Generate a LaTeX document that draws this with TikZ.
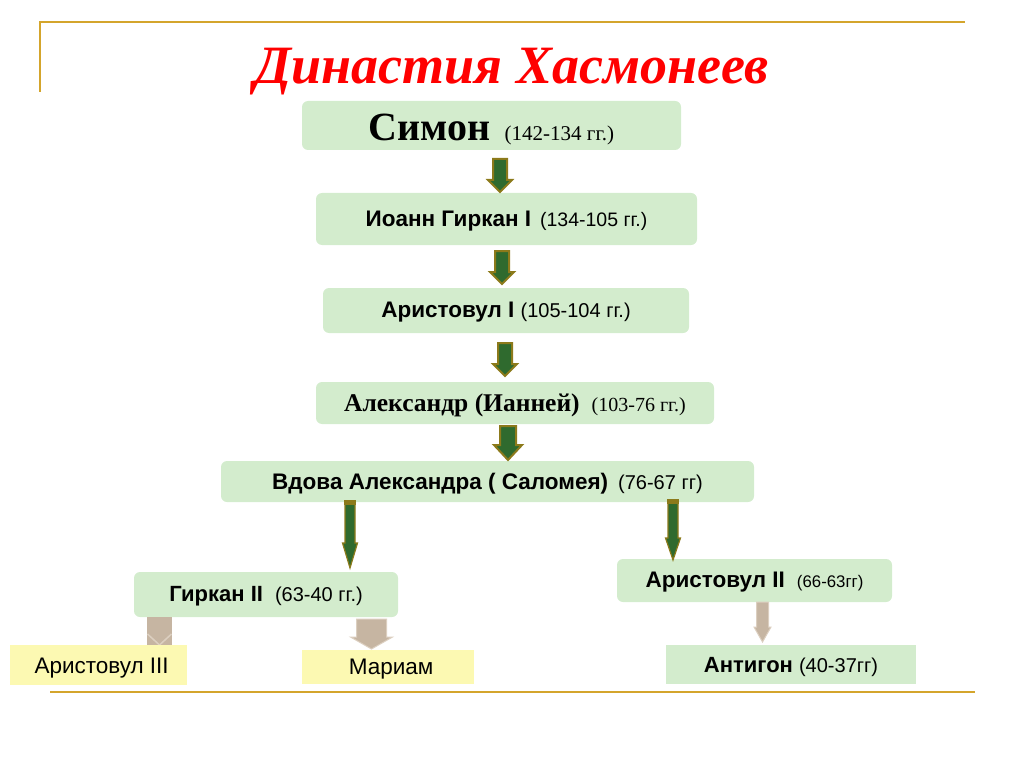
\documentclass[tikz,border=0pt]{standalone}
\usepackage{fontspec}
\setmainfont{Liberation Serif}
\newfontfamily\sansf{Liberation Sans}
\usetikzlibrary{calc}
\definecolor{gold}{HTML}{D4A52C}
\definecolor{boxgreen}{HTML}{D3ECCD}
\definecolor{boxyellow}{HTML}{FCF9B2}
\definecolor{arrgreen}{HTML}{2F6A2E}
\definecolor{arrolive}{HTML}{8C7A1B}
\definecolor{arrtan}{HTML}{C6B5A2}
\definecolor{arrtanedge}{HTML}{DCCFC0}
\definecolor{titlered}{HTML}{FF0000}
\newcommand\fs[1]{\fontsize{#1}{#1}\selectfont}
\newcommand\lowr[2]{\raisebox{-#1}[\height][\depth]{#2}}
\newcommand\blockarrow[6]{%
  \path let \p1=(#2), \p2=(#3) in [#1]
    (\x1-#4,\y1) -- (\x1+#4,\y1) -- (\x1+#4,\y2+#6) -- (\x1+#5,\y2+#6) --
    (\x1,\y2) -- (\x1-#5,\y2+#6) -- (\x1-#4,\y2+#6) -- cycle;}
\tikzset{
  gbox/.style={fill=boxgreen, rounded corners=6pt, inner sep=0pt},
  sbox/.style={fill=boxgreen, inner sep=0pt},
  ybox/.style={fill=boxyellow, inner sep=0pt},
  garr/.style={fill=arrgreen, draw=arrolive, line width=2pt, line join=miter},
  tarr/.style={fill=arrtan, draw=arrtanedge, line width=1pt},
  rule/.style={draw=gold, line width=2pt},
}
\begin{document}
\begin{tikzpicture}[x=1pt,y=-1pt]
\useasboundingbox (0,0) rectangle (1024,767);
% frame lines
\coordinate (tl) at (40,22);
\coordinate (tr) at (965,22);
\coordinate (lb) at (40,92);
\coordinate (bl) at (50,692);
\coordinate (br) at (975,692);
\draw[rule] (lb) -- (tl) -- (tr);
\draw[rule] (bl) -- (br);
% title
\node[anchor=base, text=titlered, inner sep=0pt] (title) at (512,84)
  {\fs{54}\bfseries\itshape Династия Хасмонеев};
% boxes
\node[gbox, minimum width=379, minimum height=49] (simon) at (491.5,125.5)
  {\lowr{4pt}{\fs{40}\bfseries Симон\hspace{14pt}\fs{21}\mdseries (142-134 гг.)}};
\node[gbox, minimum width=381, minimum height=52] (ioann) at (506.5,219)
  {\lowr{2pt}{\sansf\fs{22.5}\bfseries Иоанн Гиркан I\hspace{9pt}\fs{19.5}\mdseries (134-105 гг.)}};
\node[gbox, minimum width=366, minimum height=45] (arist1) at (506,310.5)
  {\lowr{2pt}{\sansf\fs{22.5}\bfseries Аристовул I \fs{20}\mdseries (105-104 гг.)}};
\node[gbox, minimum width=398, minimum height=42] (alex) at (515,403)
  {\lowr{2pt}{\fs{25.5}\bfseries Александр (Ианней)\hspace{12pt}\fs{20}\mdseries (103-76 гг.)}};
\node[gbox, minimum width=533, minimum height=41] (vdova) at (487.5,481.5)
  {\lowr{2pt}{\sansf\fs{22.5}\bfseries Вдова Александра ( Саломея)\hspace{10pt}\fs{20}\mdseries (76-67 гг)}};
\node[gbox, minimum width=264, minimum height=45] (girkan2) at (266,594.5)
  {\lowr{2pt}{\sansf\fs{22}\bfseries Гиркан II\hspace{12pt}\fs{20}\mdseries (63-40 гг.)}};
\node[gbox, minimum width=275, minimum height=43] (arist2) at (754.5,580.5)
  {\lowr{2pt}{\sansf\fs{22.5}\bfseries Аристовул II\hspace{12pt}\fs{16.8}\mdseries (66-63гг)}};
% tan arrows (drawn before lower boxes)
\coordinate (t1s) at (159.5,617);
\coordinate (t1e) at (159.5,646);
\coordinate (t2s) at (371.5,619);
\coordinate (t2e) at (371.5,649);
\coordinate (t3s) at (762.5,602);
\coordinate (t3e) at (762.5,642);
\fill[arrtan] ($(t1s)+(-12.5,0)$) rectangle ($(t1e)+(12.5,0)$);
\draw[arrtanedge, line width=1.5pt] ($(t1s)+(-12,17)$) -- ($(t1e)+(0,-1)$) -- ($(t1s)+(12,17)$);
\blockarrow{tarr}{t2s}{t2e}{15pt}{21pt}{12pt}
\blockarrow{tarr}{t3s}{t3e}{6pt}{8.5pt}{15pt}
% lower boxes
\node[ybox, minimum width=177, minimum height=40] (arist3) at (98.5,665)
  {\lowr{3pt}{\sansf\fs{22.5} Аристовул III}};
\node[ybox, minimum width=172, minimum height=34] (mariam) at (388,667)
  {\lowr{2pt}{\sansf\fs{22.5} Мариам}};
\node[sbox, minimum width=250, minimum height=39] (antigon) at (791,664.5)
  {\lowr{2pt}{\sansf\fs{22}\bfseries Антигон \fs{20}\mdseries (40-37гг)}};
% green arrows
\coordinate (a1s) at (500,159);
\coordinate (a1e) at (500,192);
\coordinate (a2s) at (502,251);
\coordinate (a2e) at (502,284);
\coordinate (a3s) at (505,343);
\coordinate (a3e) at (505,376);
\coordinate (a4s) at (508,426);
\coordinate (a4e) at (508,460);
\blockarrow{garr}{a1s}{a1e}{7pt}{12pt}{12pt}
\blockarrow{garr}{a2s}{a2e}{7pt}{12pt}{12pt}
\blockarrow{garr}{a3s}{a3e}{7pt}{12pt}{12pt}
\blockarrow{garr}{a4s}{a4e}{8pt}{14pt}{15pt}
% long green arrows
\coordinate (a5s) at (350,501);
\coordinate (a5e) at (350,568);
\coordinate (a6s) at (673,500);
\coordinate (a6e) at (673,560);
\blockarrow{garr, line width=1.2pt}{a5s}{a5e}{5pt}{7.5pt}{25pt}
\blockarrow{garr, line width=1.2pt}{a6s}{a6e}{5pt}{7.5pt}{22pt}
\fill[arrolive] ($(a5s)+(-5.6,-0.6)$) rectangle ($(a5s)+(5.6,4)$);
\fill[arrolive] ($(a6s)+(-5.6,-0.6)$) rectangle ($(a6s)+(5.6,4)$);
\end{tikzpicture}
\end{document}
